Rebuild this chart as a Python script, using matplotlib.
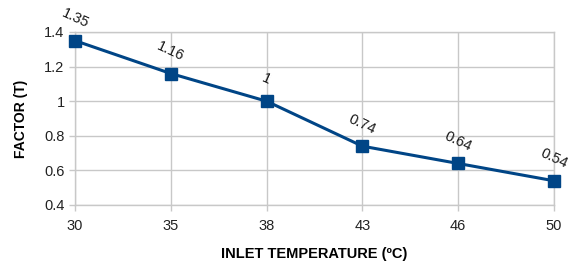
import matplotlib
matplotlib.use("Agg")
import matplotlib.pyplot as plt

categories = ["30", "35", "38", "43", "46", "50"]
values = [1.35, 1.16, 1.0, 0.74, 0.64, 0.54]
value_labels = ["1.35", "1.16", "1", "0.74", "0.64", "0.54"]
yticks = [0.4, 0.6, 0.8, 1.0, 1.2, 1.4]
ytick_labels = ["0.4", "0.6", "0.8", "1", "1.2", "1.4"]

plt.rcParams['font.family'] = ['Liberation Sans', 'DejaVu Sans']

fig = plt.figure(figsize=(5.69, 2.61), dpi=100)
ax = fig.add_axes([75/569, 1 - 205/261, (554-75)/569, (205-32)/261])

x = list(range(len(categories)))
line_color = "#004586"
ax.plot(x, values, color=line_color, linewidth=2.2, marker="s", markersize=8,
        zorder=3, clip_on=False)

for xi, v, lab in zip(x, values, value_labels):
    ax.annotate(lab, (xi, v), xytext=(0, 16), textcoords="offset points",
                ha="center", va="center", rotation=-25, fontsize=10.5, color="#1a1a1a")

ax.set_xlim(0, len(categories) - 1)
ax.set_ylim(0.4, 1.4)
ax.set_xticks(x)
ax.set_xticklabels(categories)
ax.set_yticks(yticks)
ax.set_yticklabels(ytick_labels)

grid_c = "#c8c8c8"
ax.grid(True, color=grid_c, linewidth=1)
ax.set_axisbelow(True)
for s in ax.spines.values():
    s.set_color(grid_c)
    s.set_linewidth(1)
ax.tick_params(axis="both", colors=grid_c, labelcolor="#222222", labelsize=10.5, length=4, width=1)
ax.tick_params(axis="x", pad=6)

ax.set_xlabel("INLET TEMPERATURE (ºC)", fontsize=10.5, fontweight="bold", labelpad=10)
ax.set_ylabel("FACTOR (T)", fontsize=10, fontweight="bold", labelpad=12)

fig.savefig("out.png", dpi=100)
